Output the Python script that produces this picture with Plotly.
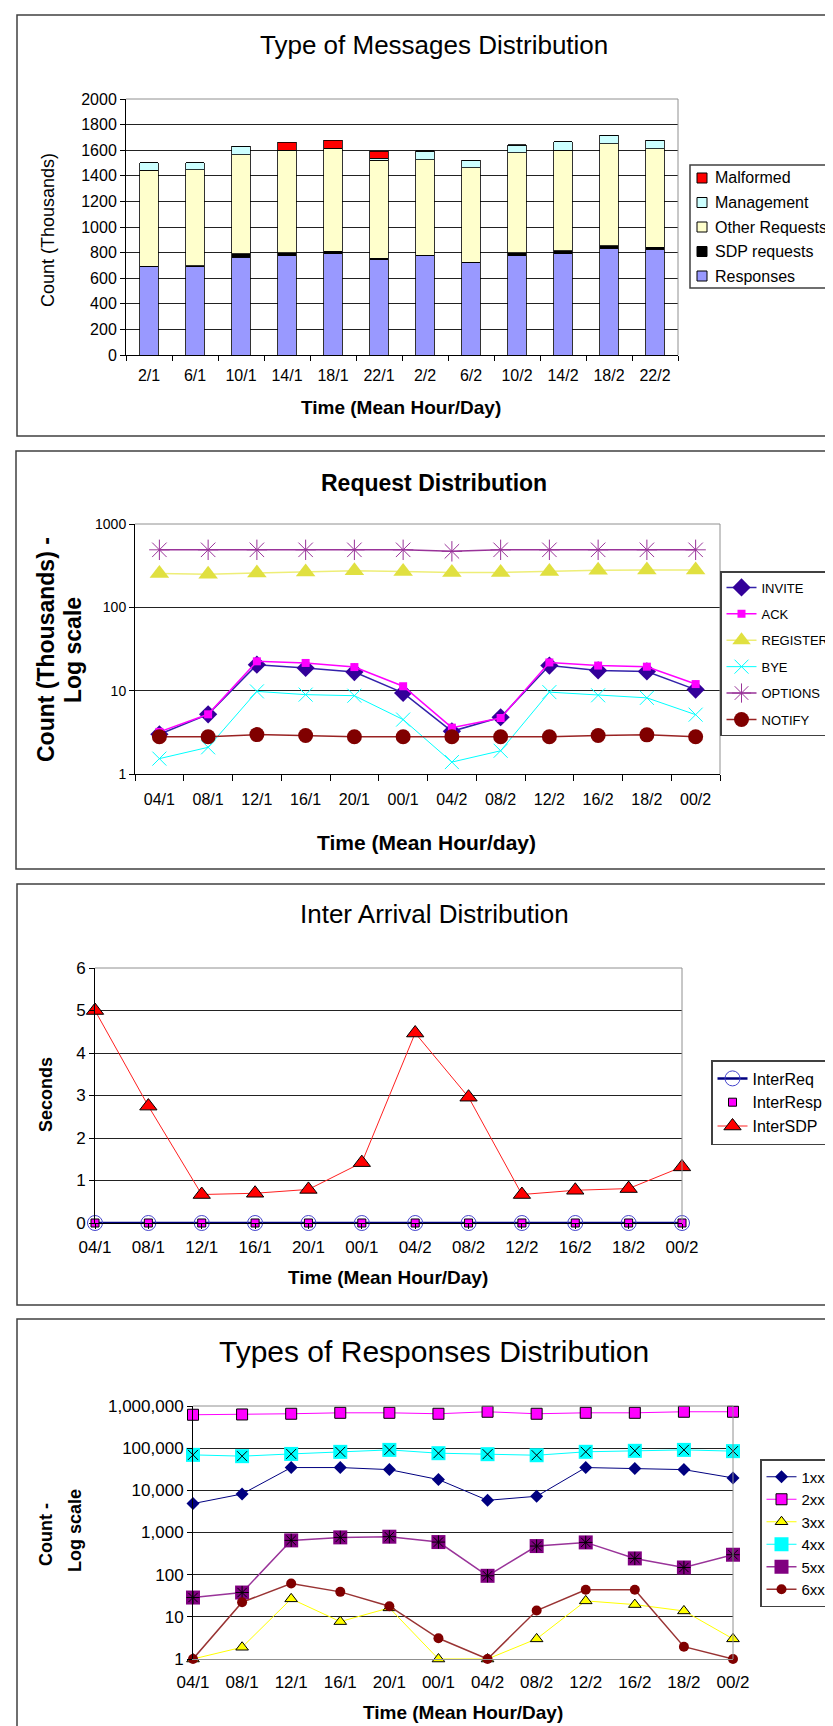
import plotly.graph_objects as go

W, H = 833, 1726

# ---------------- data ----------------
# Panel 1: Type of Messages Distribution (thousands)
msg_time = ["2/1", "6/1", "10/1", "14/1", "18/1", "22/1", "2/2", "6/2", "10/2", "14/2", "18/2", "22/2"]
msg_responses = [690, 688, 765, 775, 790, 745, 775, 720, 775, 790, 835, 826]
msg_sdp = [5, 10, 25, 25, 20, 12, 5, 5, 25, 26, 20, 14]
msg_other = [750, 750, 775, 795, 800, 765, 745, 738, 780, 785, 796, 771]
msg_management = [57, 55, 65, 5, 5, 15, 65, 60, 60, 65, 65, 66]
msg_malformed = [0, 0, 0, 62, 62, 55, 5, 0, 3, 0, 0, 0]

# Panels 2-4 time labels
time_labels = ["04/1", "08/1", "12/1", "16/1", "20/1", "00/1", "04/2", "08/2", "12/2", "16/2", "18/2", "00/2"]

# Panel 2: Request Distribution (thousands, log)
req_invite = [3.0, 5.2, 20.5, 18.7, 16.7, 9.4, 3.25, 4.8, 20.0, 17.5, 17.0, 10.3]
req_ack = [3.2, 5.2, 22.5, 21.5, 19.2, 11.3, 3.6, 4.7, 21.8, 20.0, 19.4, 12.0]
req_register = [255, 250, 258, 265, 275, 270, 262, 262, 270, 278, 280, 280]
req_bye = [1.53, 2.09, 9.8, 8.96, 8.7, 4.5, 1.39, 1.9, 9.6, 8.8, 8.2, 5.15]
req_options = [490, 490, 490, 490, 490, 490, 470, 490, 490, 490, 490, 490]
req_notify = [2.8, 2.8, 2.97, 2.9, 2.8, 2.8, 2.8, 2.8, 2.8, 2.9, 2.95, 2.8]

# Panel 3: Inter Arrival Distribution (seconds)
ia_req = [0, 0, 0, 0, 0, 0, 0, 0, 0, 0, 0, 0]
ia_resp = [0, 0, 0, 0, 0, 0, 0, 0, 0, 0, 0, 0]
ia_sdp = [5.0, 2.75, 0.67, 0.70, 0.79, 1.42, 4.47, 2.96, 0.67, 0.77, 0.81, 1.32]

# Panel 4: Types of Responses Distribution (count, log)
r1xx = [4840, 8200, 34700, 34700, 31000, 18000, 5800, 7230, 34700, 32900, 31000, 19700]
r2xx = [620000, 630000, 655000, 690000, 690000, 655000, 730000, 655000, 690000, 690000, 730000, 730000]
r3xx = [1, 1.9, 26.7, 7.7, 16.3, 1, 1, 3.0, 23.9, 19.5, 13.8, 3.0]
r4xx = [69400, 64600, 73000, 81800, 91000, 76000, 72000, 68000, 82000, 86500, 91000, 85000]
r5xx = [28.7, 37.7, 650, 766, 795, 593, 94, 477, 582, 243, 148, 297]
r6xx = [1, 22.2, 61.8, 39.1, 17.9, 3.1, 1, 14.1, 43.7, 43.7, 1.96, 1]

log_ticks4 = [1, 10, 100, 1000, 10000, 100000, 1000000]
log_text4 = ["1", "10", "100", "1,000", "10,000", "100,000", "1,000,000"]
log_ticks2 = [1, 10, 100, 1000]
log_text2 = ["1", "10", "100", "1000"]

# ---------------- helpers ----------------
def px(x):
    return x / W

def py(y):
    return 1 - y / H

SANS = "Liberation Sans, Arial, sans-serif"
BLACK = "#000000"
GRID = "#222222"

fig = go.Figure()

# ---------------- Panel 1 ----------------
bar_series = [
    ("Responses", msg_responses, "#9999FF"),
    ("SDP requests", msg_sdp, "#000000"),
    ("Other Requests", msg_other, "#FFFFCC"),
    ("Management", msg_management, "#CCFFFF"),
    ("Malformed", msg_malformed, "#FF0000"),
]
for name, vals, col in bar_series:
    fig.add_trace(go.Bar(x=msg_time, y=vals, name=name, showlegend=False,
                         marker=dict(color=col, line=dict(color=BLACK, width=0.8)),
                         xaxis="x", yaxis="y"))

# ---------------- Panel 2 ----------------
p2 = [
    ("INVITE", req_invite, dict(symbol="diamond", size=14, color="#330099", line=dict(width=0)), "#3322AA", 1.5),
    ("ACK", req_ack, dict(symbol="square", size=8, color="#FF00FF", line=dict(width=0)), "#FF00FF", 1.5),
    ("REGISTER", req_register, dict(symbol="triangle-up", size=17, color="#E0E040", line=dict(width=0)), "#EEEE77", 1.5),
    ("BYE", req_bye, dict(symbol="x-thin-open", size=14, color="#00FFFF", line=dict(width=1)), "#00FFFF", 1),
    ("OPTIONS", req_options, dict(symbol="asterisk-open", size=17, color="#993399", line=dict(width=1)), "#993399", 1.5),
    ("NOTIFY", req_notify, dict(symbol="circle", size=15, color="#800000", line=dict(width=0)), "#992222", 1.5),
]
for name, vals, mk, lc, lw in p2:
    fig.add_trace(go.Scatter(x=time_labels, y=vals, name=name, mode="lines+markers",
                             marker=mk, line=dict(color=lc, width=lw), legendgroup=name,
                             xaxis="x2", yaxis="y2", legend="legend", cliponaxis=False))

# ---------------- Panel 3 ----------------
fig.add_trace(go.Scatter(x=time_labels, y=ia_req, name="InterReq", mode="lines+markers",
                         marker=dict(symbol="circle-open", size=15, color="#4444CC", line=dict(width=1)),
                         line=dict(color="#000080", width=2.5),
                         xaxis="x3", yaxis="y3", legend="legend2", cliponaxis=False))
fig.add_trace(go.Scatter(x=time_labels, y=ia_resp, name="InterResp", mode="markers",
                         marker=dict(symbol="square", size=8, color="#FF00FF", line=dict(color=BLACK, width=1)),
                         xaxis="x3", yaxis="y3", legend="legend2", cliponaxis=False))
fig.add_trace(go.Scatter(x=time_labels, y=ia_sdp, name="InterSDP", mode="lines+markers",
                         marker=dict(symbol="triangle-up", size=15, color="#FF0000", line=dict(color=BLACK, width=1)),
                         line=dict(color="#FF2020", width=1),
                         xaxis="x3", yaxis="y3", legend="legend2", cliponaxis=False))

# ---------------- Panel 4 ----------------
def p4(name, vals, mk, lc, lw, show=True, mode="lines+markers"):
    fig.add_trace(go.Scatter(x=time_labels, y=vals, name=name, mode=mode, marker=mk,
                             line=dict(color=lc, width=lw), showlegend=show,
                             xaxis="x4", yaxis="y4", legend="legend3", cliponaxis=False))

p4("1xx", r1xx, dict(symbol="diamond", size=10, color="#000080", line=dict(width=0)), "#000080", 1)
p4("2xx", r2xx, dict(symbol="square", size=11, color="#FF00FF", line=dict(color=BLACK, width=1)), "#FF00FF", 1)
p4("3xx", r3xx, dict(symbol="triangle-up", size=11, color="#FFFF00", line=dict(color=BLACK, width=1)), "#FFFF00", 1)
p4("4xx", r4xx, dict(symbol="square", size=14, color="#00FFFF", line=dict(width=0)), "#00FFFF", 1)
p4("4xx", r4xx, dict(symbol="x-thin-open", size=10, color=BLACK, line=dict(width=1)), BLACK, 0, show=False, mode="markers")
p4("5xx", r5xx, dict(symbol="square", size=14, color="#800080", line=dict(width=0)), "#993399", 1.5)
p4("5xx", r5xx, dict(symbol="asterisk-open", size=11, color=BLACK, line=dict(width=1)), BLACK, 0, show=False, mode="markers")
p4("6xx", r6xx, dict(symbol="circle", size=10, color="#800000", line=dict(width=0)), "#993333", 1.5)

# ---------------- shapes ----------------
shapes = []

def rect(x0, y0, x1, y1, color="#404040", width=1.5, fill="rgba(0,0,0,0)", layer="below"):
    shapes.append(dict(type="rect", xref="paper", yref="paper",
                       x0=px(x0), x1=px(x1), y0=py(y1), y1=py(y0),
                       line=dict(color=color, width=width), fillcolor=fill, layer=layer))

# panel frames
rect(9, 7, 845, 428)
rect(8, 443, 845, 861)
rect(9, 876, 845, 1297)
rect(9, 1311, 845, 1735)

# gray top/right border of each plot area
for xa, ya in [("x", "y"), ("x2", "y2"), ("x3", "y3"), ("x4", "y4")]:
    shapes.append(dict(type="line", xref=f"{xa} domain", yref=f"{ya} domain",
                       x0=0, x1=1, y0=1, y1=1, line=dict(color="#909090", width=1), layer="above"))
    shapes.append(dict(type="line", xref=f"{xa} domain", yref=f"{ya} domain",
                       x0=1, x1=1, y0=0, y1=1, line=dict(color="#909090", width=1), layer="above"))

# manual legend for panel 1 (reversed order like original)
rect(682, 157, 845, 280, fill="white", layer="above")
annotations = []
for i, (name, vals, col) in enumerate(reversed(bar_series)):
    yc = 170 + i * 24.5
    rect(689, yc - 5, 699, yc + 5, color=BLACK, width=1, fill=col, layer="above")
    annotations.append(dict(x=px(705), y=py(yc), xref="paper", yref="paper", text=name,
                            showarrow=False, xanchor="left", yanchor="middle",
                            font=dict(family=SANS, size=16, color=BLACK)))

def text(x, y, s, size, family=SANS, bold=False, angle=0):
    if bold:
        s = "<b>" + s + "</b>"
    annotations.append(dict(x=px(x), y=py(y), xref="paper", yref="paper", text=s,
                            showarrow=False, xanchor="center", yanchor="middle", textangle=angle,
                            font=dict(family=family, size=size, color=BLACK)))

# titles
text(426, 37, "Type of Messages Distribution", 26)
text(426, 475, "Request Distribution", 23, bold=True)
text(426, 906, "Inter Arrival Distribution", 26)
text(426, 1343, "Types of Responses Distribution", 30)
# x titles
text(393, 400, "Time (Mean Hour/Day)", 19, bold=True)
text(418, 834, "Time (Mean Hour/day)", 21, bold=True)
text(380, 1269, "Time (Mean Hour/Day)", 19, bold=True)
text(455, 1704, "Time (Mean Hour/Day)", 19, bold=True)
# y titles
text(40, 222, "Count (Thousands)", 18, angle=-90)
text(38, 642, "Count (Thousands) -", 23, bold=True, angle=-90)
text(65, 642, "Log scale", 23, bold=True, angle=-90)
text(38, 1087, "Seconds", 18, bold=True, angle=-90)
text(38, 1527, "Count -", 18, bold=True, angle=-90)
text(67, 1523, "Log scale", 18, bold=True, angle=-90)

# ---------------- axes ----------------
tf16 = dict(family=SANS, size=16, color=BLACK)
tf17 = dict(family=SANS, size=17, color=BLACK)

common_y = dict(ticks="outside", ticklen=5, tickcolor=BLACK, showline=True, linecolor=BLACK,
                linewidth=1, gridcolor=GRID, gridwidth=1, zeroline=False, fixedrange=True)
common_x = dict(showgrid=False, showline=True, linecolor=BLACK, linewidth=1, tickcolor=BLACK,
                zeroline=False, fixedrange=True)

legend_common = dict(xanchor="left", yanchor="top", bordercolor="#404040", borderwidth=1.5,
                     bgcolor="white", itemwidth=30)

fig.update_layout(
    width=W, height=H,
    margin=dict(l=0, r=0, t=0, b=0, autoexpand=False),
    paper_bgcolor="white", plot_bgcolor="white",
    barmode="stack", bargap=0.6,
    shapes=shapes, annotations=annotations,
    xaxis=dict(common_x, domain=[px(118), px(670)], anchor="y", type="category",
               range=[-0.5, 11.5], tickson="boundaries", ticks="outside", ticklen=5,
               tickfont=tf16, ticklabelstandoff=6),
    yaxis=dict(common_y, domain=[py(347), py(91)], anchor="x", range=[0, 2000], dtick=200,
               tickfont=tf16),
    xaxis2=dict(common_x, domain=[px(127), px(712)], anchor="y2", type="category",
                range=[-0.5, 11.5], tickson="boundaries", ticks="outside", ticklen=6,
                tickfont=dict(family=SANS, size=16, color=BLACK), ticklabelstandoff=11),
    yaxis2=dict(common_y, domain=[py(766), py(516)], anchor="x2", type="log", range=[0, 3],
                tickvals=log_ticks2, ticktext=log_text2,
                tickfont=dict(family=SANS, size=14, color=BLACK)),
    xaxis3=dict(common_x, domain=[px(87), px(674)], anchor="y3", type="category",
                range=[0, 11], ticks="outside", ticklen=5, tickfont=tf17, ticklabelstandoff=4),
    yaxis3=dict(common_y, domain=[py(1215), py(960)], anchor="x3", range=[0, 6], dtick=1,
                tickfont=tf17),
    xaxis4=dict(common_x, domain=[px(185), px(725)], anchor="y4", type="category",
                range=[0, 11], ticks="", linecolor="#909090", tickfont=tf17, ticklabelstandoff=8),
    yaxis4=dict(common_y, domain=[py(1651), py(1398)], anchor="x4", type="log", range=[0, 6],
                tickvals=log_ticks4, ticktext=log_text4, tickfont=tf17),
    legend=dict(legend_common, x=px(712), y=py(563), traceorder="grouped", tracegroupgap=6.5,
                font=dict(family=SANS, size=13, color=BLACK)),
    legend2=dict(legend_common, x=px(703), y=py(1052), traceorder="normal", tracegroupgap=0,
                 font=dict(family=SANS, size=16, color=BLACK)),
    legend3=dict(legend_common, x=px(752), y=py(1451), traceorder="normal", tracegroupgap=0,
                 font=dict(family=SANS, size=15, color=BLACK)),
)

fig.write_html("out.html")
